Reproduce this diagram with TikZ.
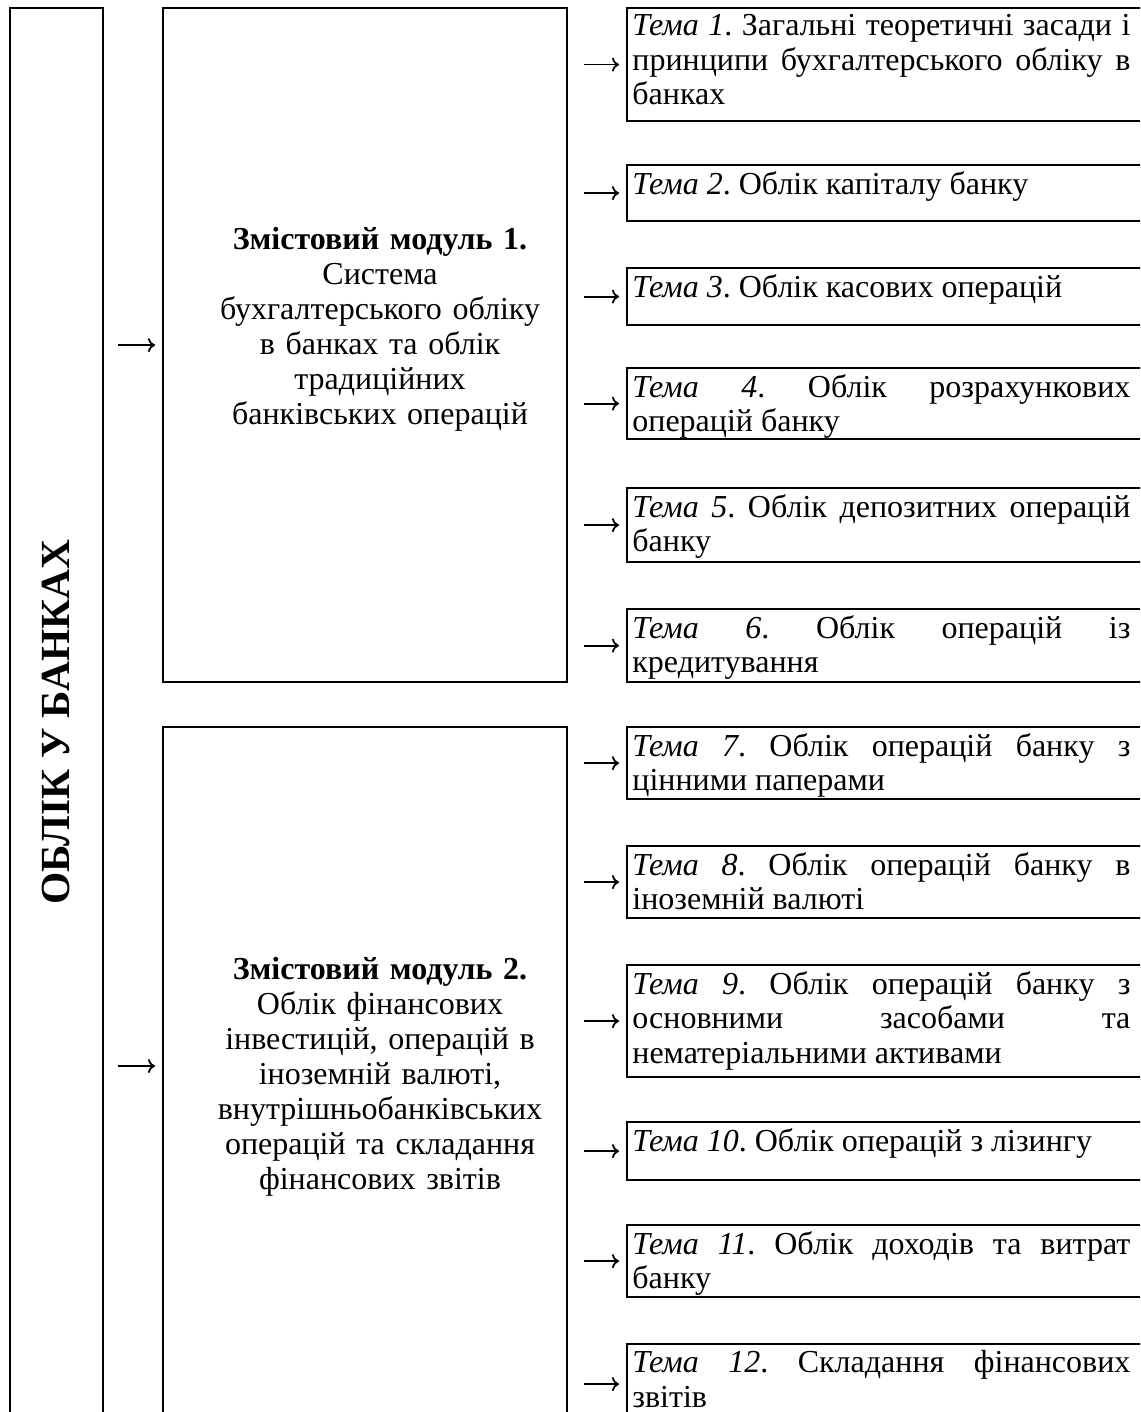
\documentclass[tikz,border=0pt]{standalone}
\usepackage{fontspec}
\setmainfont{Liberation Serif}
\usetikzlibrary{positioning, arrows.meta}
\frenchspacing

\begin{document}
\begin{tikzpicture}[
        x=0.5pt, y=-0.5pt,
        % Style for the block frames
        frame/.style={rectangle, draw=black, line width=1.1pt, anchor=north west, inner sep=0pt},
        % Style for the text of a topic block
        topictext/.style={anchor=north west, text width=249pt, align=justify, inner xsep=3pt, inner ysep=3.5pt, font=\fontsize{16}{17.25}\selectfont},
        % Style for the text of a module block
        modtext/.style={text width=200pt, align=center, inner sep=0pt, font=\fontsize{16}{17.5}\selectfont},
        % Style for the small arrows
        arr/.style={-{To[length=3.5pt, width=7pt]}, line width=0.9pt}
    ]
        \useasboundingbox (0,0) rectangle (1140,1412);
        \clip (0,0) rectangle (1140,1412);

        % --- Course column ---
        \node[frame, minimum width=46.5pt, minimum height=712pt] (main) at (9,7) {};
        \node[rotate=90, font=\bfseries\fontsize{20.7}{22}\selectfont] (title) at (56,722) {ОБЛІК У БАНКАХ};

        % --- Module blocks ---
        \node[frame, minimum width=202pt, minimum height=337pt] (m1) at (162,7) {};
        \node[modtext] (m1txt) at (380,329) {\textbf{Змістовий модуль 1.}\\Система\\бухгалтерського обліку\\в банках та облік\\традиційних\\банківських операцій};
        \node[frame, minimum width=202pt, minimum height=360pt] (m2) at (162,726) {};
        \node[modtext] (m2txt) at (380,1077) {\textbf{Змістовий модуль 2.}\\Облік фінансових\\інвестицій, операцій в\\іноземній валюті,\\внутрішньобанківських\\операцій та складання\\фінансових звітів};
        \coordinate (m2in) at (162,1066);

        % --- Topic blocks of module 1 ---
        \node[frame, minimum width=262pt, minimum height=56.5pt] (t1) at (626,7) {};
        \node[topictext] (t1txt) at (t1.north west) {\textit{Тема 1}. Загальні теоретичні засади і\linebreak принципи бухгалтерського обліку в\linebreak банках};
        \node[frame, minimum width=262pt, minimum height=28pt] (t2) at (626,164) {};
        \node[topictext] (t2txt) at (t2.north west) {\textit{Тема 2}. Облік капіталу банку};
        \node[frame, minimum width=262pt, minimum height=28.5pt] (t3) at (626,267) {};
        \node[topictext] (t3txt) at (t3.north west) {\textit{Тема 3}. Облік касових операцій};
        \node[frame, minimum width=262pt, minimum height=35.5pt] (t4) at (626,367) {};
        \node[topictext] (t4txt) at (t4.north west) {\textit{Тема 4}. Облік розрахункових\linebreak операцій банку};
        \node[frame, minimum width=262pt, minimum height=37pt] (t5) at (626,487) {};
        \node[topictext] (t5txt) at (t5.north west) {\textit{Тема 5}. Облік депозитних операцій\linebreak банку};
        \node[frame, minimum width=262pt, minimum height=36.5pt] (t6) at (626,608) {};
        \node[topictext] (t6txt) at (t6.north west) {\textit{Тема 6}. Облік операцій із\linebreak кредитування};

        % --- Topic blocks of module 2 ---
        \node[frame, minimum width=262pt, minimum height=36pt] (t7) at (626,726) {};
        \node[topictext] (t7txt) at (t7.north west) {\textit{Тема 7}. Облік операцій банку з\linebreak цінними паперами};
        \node[frame, minimum width=262pt, minimum height=36pt] (t8) at (626,845) {};
        \node[topictext] (t8txt) at (t8.north west) {\textit{Тема 8}. Облік операцій банку в\linebreak іноземній валюті};
        \node[frame, minimum width=262pt, minimum height=56pt] (t9) at (626,964) {};
        \node[topictext] (t9txt) at (t9.north west) {\textit{Тема 9}. Облік операцій банку з\linebreak основними засобами та\linebreak нематеріальними активами};
        \node[frame, minimum width=262pt, minimum height=29pt] (t10) at (626,1121) {};
        \node[topictext] (t10txt) at (t10.north west) {\textit{Тема 10}. Облік операцій з лізингу};
        \node[frame, minimum width=262pt, minimum height=36pt] (t11) at (626,1224) {};
        \node[topictext] (t11txt) at (t11.north west) {\textit{Тема 11}. Облік доходів та витрат\linebreak банку};
        \node[frame, minimum width=262pt, minimum height=40pt] (t12) at (626,1343) {};
        \node[topictext] (t12txt) at (t12.north west) {\textit{Тема 12}. Складання фінансових\linebreak звітів};

        % --- Arrows from the course to the modules ---
        \draw[arr, shorten <=7pt, shorten >=3.5pt] (main.east |- m1.west) -- (m1.west);
        \draw[arr, shorten <=7pt, shorten >=3.5pt] (main.east |- m2in) -- (m2in);

        % --- Arrows from the modules to the topics ---
        \draw[arr, shorten <=8pt, shorten >=3.5pt] (m1.east |- t1.west) -- (t1.west);
        \draw[arr, shorten <=8pt, shorten >=3.5pt] (m1.east |- t2.west) -- (t2.west);
        \draw[arr, shorten <=8pt, shorten >=3.5pt] (m1.east |- t3.west) -- (t3.west);
        \draw[arr, shorten <=8pt, shorten >=3.5pt] (m1.east |- t4.west) -- (t4.west);
        \draw[arr, shorten <=8pt, shorten >=3.5pt] (m1.east |- t5.west) -- (t5.west);
        \draw[arr, shorten <=8pt, shorten >=3.5pt] (m1.east |- t6.west) -- (t6.west);
        \draw[arr, shorten <=8pt, shorten >=3.5pt] (m2.east |- t7.west) -- (t7.west);
        \draw[arr, shorten <=8pt, shorten >=3.5pt] (m2.east |- t8.west) -- (t8.west);
        \draw[arr, shorten <=8pt, shorten >=3.5pt] (m2.east |- t9.west) -- (t9.west);
        \draw[arr, shorten <=8pt, shorten >=3.5pt] (m2.east |- t10.west) -- (t10.west);
        \draw[arr, shorten <=8pt, shorten >=3.5pt] (m2.east |- t11.west) -- (t11.west);
        \draw[arr, shorten <=8pt, shorten >=3.5pt] (m2.east |- t12.west) -- (t12.west);
    \end{tikzpicture}
\end{document}
